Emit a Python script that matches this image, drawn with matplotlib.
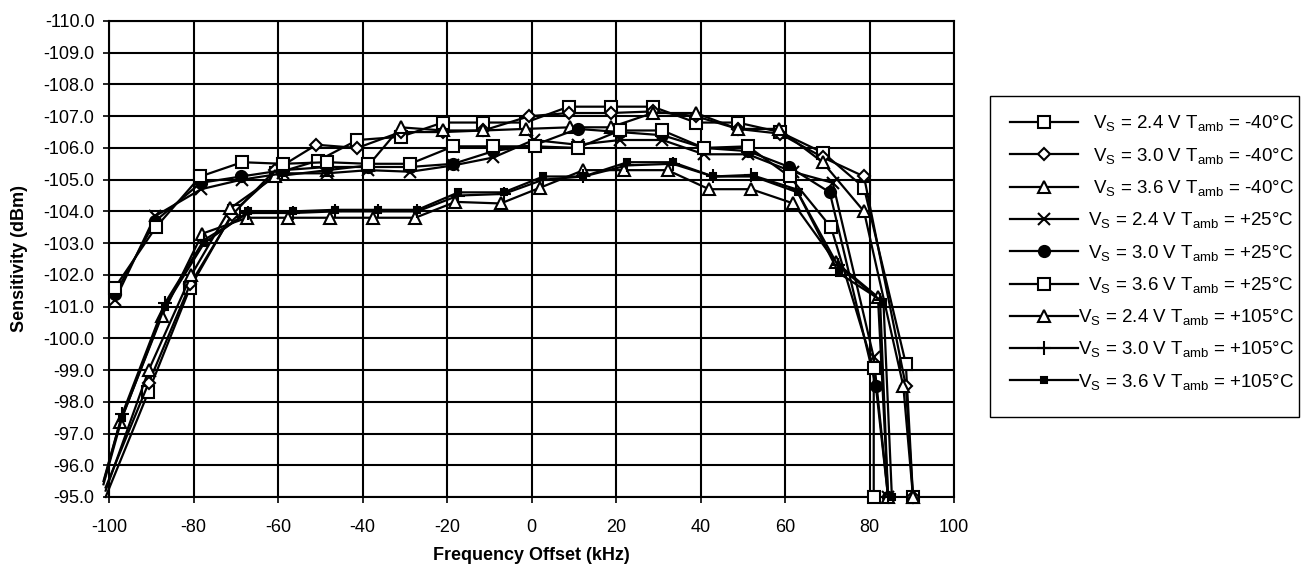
import numpy as np
import matplotlib.pyplot as plt
from matplotlib.lines import Line2D
from matplotlib.patches import Rectangle

plt.rcParams['font.family'] = ['Liberation Sans', 'DejaVu Sans']
plt.rcParams['mathtext.fontset'] = 'custom'
plt.rcParams['mathtext.rm'] = 'Liberation Sans'
plt.rcParams['axes.unicode_minus'] = False

# ---- data (kHz, dBm) ----
# Vs = 2.4 V, -40 C (open square)
x1 = [-100.8, -90.7, -80.8, -70.5, -60.5, -50.5, -41.2, -31.0, -21.0, -11.4, -1.4, 8.8, 18.7, 28.7, 38.9, 48.8, 58.8, 69.0, 78.7, 88.6, 90.3]
y1 = [-95.0, -98.3, -101.6, -104.0, -105.2, -105.6, -106.25, -106.35, -106.8, -106.8, -106.8, -107.3, -107.3, -107.3, -106.8, -106.8, -106.5, -105.85, -104.75, -99.2, -95.0]
# Vs = 3.0 V, -40 C (diamond)
x2 = [-100.8, -90.6, -80.8, -70.8, -60.7, -50.9, -41.2, -31.0, -21.0, -11.4, -0.5, 8.8, 18.7, 28.7, 38.9, 48.8, 58.8, 69.0, 78.7, 88.6, 90.3]
y2 = [-95.3, -98.6, -101.7, -103.9, -105.3, -106.1, -106.0, -106.5, -106.5, -106.55, -107.0, -107.1, -107.1, -107.15, -107.0, -106.6, -106.45, -105.7, -105.1, -98.5, -95.0]
# Vs = 3.6 V, -40 C (triangle)
x3 = [-100.8, -90.6, -80.5, -71.3, -60.7, -48.3, -38.6, -31.0, -21.0, -11.4, -1.4, 9.2, 18.7, 28.7, 38.9, 48.8, 58.5, 68.9, 78.7, 88.0, 90.3]
y3 = [-95.2, -99.0, -102.0, -104.1, -105.1, -105.3, -105.45, -106.65, -106.55, -106.55, -106.6, -106.65, -106.65, -107.1, -107.1, -106.6, -106.6, -105.55, -104.0, -98.5, -95.0]
# Vs = 2.4 V, +25 C (x)
x4 = [-98.6, -89.1, -78.2, -68.6, -58.8, -48.5, -38.6, -28.7, -18.5, -9.0, 0.5, 10.9, 21.0, 31.0, 40.8, 51.2, 61.8, 71.3, 81.0, 84.4]
y4 = [-101.2, -103.85, -104.7, -105.0, -105.2, -105.2, -105.3, -105.25, -105.45, -105.7, -106.25, -106.1, -106.25, -106.25, -105.8, -105.8, -105.25, -104.9, -99.4, -95.0]
# Vs = 3.0 V, +25 C (filled circle)
x5 = [-98.6, -89.0, -78.3, -68.7, -58.8, -48.3, -38.6, -28.7, -18.5, -9.0, 0.9, 10.9, 21.0, 31.0, 40.8, 51.2, 61.0, 70.6, 81.5, 84.4]
y5 = [-101.4, -103.7, -104.9, -105.1, -105.3, -105.4, -105.4, -105.4, -105.5, -105.9, -106.1, -106.6, -106.5, -106.4, -106.0, -105.9, -105.4, -104.6, -98.5, -95.0]
# Vs = 3.6 V, +25 C (open square)
x6 = [-98.6, -88.9, -78.4, -68.5, -58.8, -48.3, -38.6, -28.7, -18.5, -9.0, 0.9, 10.9, 21.0, 31.0, 40.8, 51.2, 61.1, 70.9, 81.0, 81.0]
y6 = [-101.6, -103.5, -105.1, -105.55, -105.5, -105.55, -105.5, -105.5, -106.05, -106.05, -106.05, -106.0, -106.55, -106.55, -106.0, -106.05, -105.1, -103.5, -99.05, -95.0]
# Vs = 2.4 V, +105 C (triangle)
x7 = [-101.0, -97.4, -87.5, -77.9, -67.3, -57.6, -47.6, -37.4, -27.5, -18.0, -7.3, 2.1, 12.3, 21.8, 32.2, 42.0, 52.0, 62.0, 72.0, 82.0, 84.4]
y7 = [-95.6, -97.35, -100.7, -103.3, -103.8, -103.8, -103.8, -103.8, -103.8, -104.3, -104.25, -104.75, -105.3, -105.3, -105.3, -104.7, -104.7, -104.25, -102.4, -101.3, -95.0]
# Vs = 3.0 V, +105 C (plus)
x8 = [-101.3, -96.9, -86.8, -77.5, -67.0, -56.4, -46.5, -36.3, -27.0, -17.3, -6.6, 2.8, 12.3, 22.7, 33.4, 43.0, 52.0, 62.6, 72.5, 82.5, 84.4]
y8 = [-95.5, -97.6, -101.1, -103.1, -103.95, -103.95, -104.0, -104.0, -104.0, -104.5, -104.55, -105.0, -105.1, -105.45, -105.5, -105.1, -105.15, -104.7, -102.3, -101.2, -95.0]
# Vs = 3.6 V, +105 C (small filled square)
x9 = [-101.3, -96.9, -86.8, -77.5, -67.0, -56.4, -46.5, -36.3, -27.0, -17.3, -6.6, 2.8, 12.3, 22.7, 33.4, 43.0, 52.6, 63.0, 72.8, 83.3, 85.3]
y9 = [-95.4, -97.5, -101.0, -103.0, -104.0, -104.0, -104.05, -104.05, -104.05, -104.6, -104.6, -105.1, -105.1, -105.55, -105.55, -105.1, -105.1, -104.6, -102.05, -101.15, -95.0]

labels = [
    r'V$_\mathrm{S}$ = 2.4 V T$_\mathrm{amb}$ = -40°C',
    r'V$_\mathrm{S}$ = 3.0 V T$_\mathrm{amb}$ = -40°C',
    r'V$_\mathrm{S}$ = 3.6 V T$_\mathrm{amb}$ = -40°C',
    r'V$_\mathrm{S}$ = 2.4 V T$_\mathrm{amb}$ = +25°C',
    r'V$_\mathrm{S}$ = 3.0 V T$_\mathrm{amb}$ = +25°C',
    r'V$_\mathrm{S}$ = 3.6 V T$_\mathrm{amb}$ = +25°C',
    r'V$_\mathrm{S}$ = 2.4 V T$_\mathrm{amb}$ = +105°C',
    r'V$_\mathrm{S}$ = 3.0 V T$_\mathrm{amb}$ = +105°C',
    r'V$_\mathrm{S}$ = 3.6 V T$_\mathrm{amb}$ = +105°C',
]

series = [(x1, y1), (x2, y2), (x3, y3), (x4, y4), (x5, y5), (x6, y6), (x7, y7), (x8, y8), (x9, y9)]
styles = [
    dict(marker='s', ms=8, mfc='white'),
    dict(marker='D', ms=6, mfc='white'),
    dict(marker='^', ms=8, mfc='white'),
    dict(marker='x', ms=8, mfc='black'),
    dict(marker='o', ms=8, mfc='black'),
    dict(marker='s', ms=8, mfc='white'),
    dict(marker='^', ms=8, mfc='white'),
    dict(marker='+', ms=10, mfc='black'),
    dict(marker='s', ms=5, mfc='black'),
]

W, H = 1303, 566
fig = plt.figure(figsize=(W / 100, H / 100), dpi=100)
ax = fig.add_axes([109 / W, 1 - 497 / H, (954 - 109) / W, (497 - 21) / H])

for (xs, ys), st in zip(series, styles):
    # points beyond the left edge only carry the line, no marker
    start = 1 if xs[0] < -100 else 0
    ax.plot(xs, ys, color='black', lw=1.6, mec='black', mew=1.5,
            markevery=list(range(start, len(xs))), clip_on=False, zorder=3, **st)

ax.set_xlim(-100, 100)
ax.set_ylim(-95, -110)
ax.set_xticks(np.arange(-100, 101, 20))
ax.set_yticks(np.arange(-110, -94, 1))
ax.set_yticklabels(['%.1f' % v for v in np.arange(-110, -94, 1)])
ax.grid(True, color='black', lw=1.5)
ax.set_axisbelow(True)
for s in ax.spines.values():
    s.set_color('black')
    s.set_linewidth(1.5)
ax.tick_params(labelsize=13, length=4.5, width=1.2, colors='black')
ax.tick_params(axis='x', pad=11)
ax.tick_params(axis='y', pad=6)

ax.set_xlabel('Frequency Offset (kHz)', fontsize=13, fontweight='bold', va='center')
ax.xaxis.set_label_coords(0.5, (497 - 556) / 476)
ax.set_ylabel('Sensitivity (dBm)', fontsize=13, fontweight='bold', va='center')
ax.yaxis.set_label_coords((20 - 109) / 845, 0.5)

# legend drawn by hand so the text can be right aligned like the original
fig.add_artist(Rectangle((990 / W, 1 - 417 / H), (1299 - 990) / W, (417 - 96) / H,
                         transform=fig.transFigure, fill=False, ec='black', lw=1.0))
for i, (lab, st) in enumerate(zip(labels, styles)):
    yrow = 122 + 32.3 * i
    fy = 1 - yrow / H
    fig.add_artist(Line2D([1010 / W, 1078 / W], [fy, fy], transform=fig.transFigure,
                          color='black', lw=1.6))
    fig.add_artist(Line2D([1044 / W], [fy], transform=fig.transFigure, color='black',
                          mec='black', mew=1.5, **st))
    fig.text(1294 / W, 1 - (yrow + 7) / H, lab, ha='right', va='baseline', fontsize=13.5)

fig.savefig('out.png', dpi=100)
